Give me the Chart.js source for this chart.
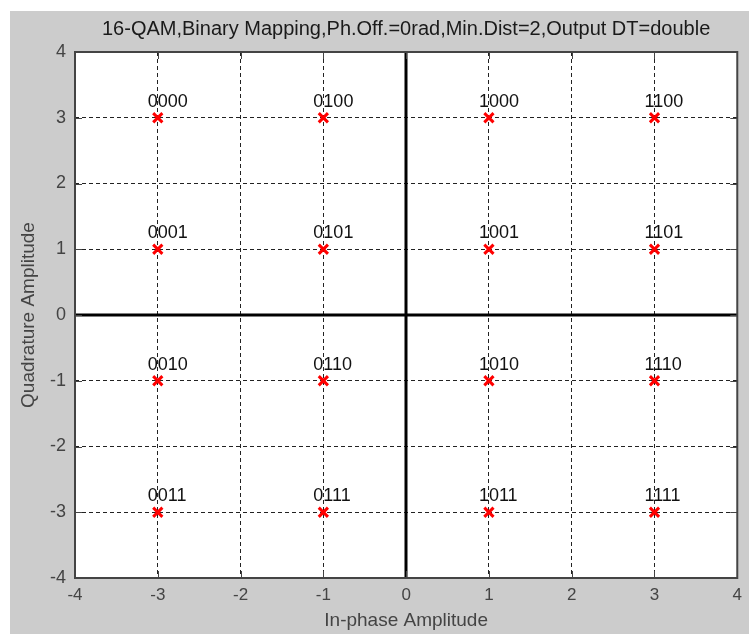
<!DOCTYPE html>
<html>
<head>
<meta charset="utf-8">
<title>16-QAM constellation</title>
<script src="https://cdn.jsdelivr.net/npm/chart.js@4/dist/chart.umd.min.js"></script>
<style>
  html, body { margin: 0; padding: 0; background: #fff; }
  #frame {
    position: absolute; left: 10px; top: 11px;
    width: 739px; height: 623px; background: #cccccc;
  }
  #frame canvas { display: block; }
</style>
</head>
<body>
<div id="frame"><canvas id="qam"></canvas></div>
<script>
// Constellation points (binary mapping, min. distance 2)
const inPhase    = [-3, -1, 1, 3, -3, -1, 1, 3, -3, -1, 1, 3, -3, -1, 1, 3];
const quadrature = [ 3,  3, 3, 3,  1,  1, 1, 1, -1, -1, -1, -1, -3, -3, -3, -3];
const symbolBits = ['0000', '0100', '1000', '1100',
                    '0001', '0101', '1001', '1101',
                    '0010', '0110', '1010', '1110',
                    '0011', '0111', '1011', '1111'];
const axisMin = -4;
const axisMax = 4;

const FONT = "'Liberation Sans', Arial, Helvetica, sans-serif";
const TICK_COLOR = '#444';

const points = inPhase.map((x, i) => ({x, y: quadrature[i]}));

// White axes background, box, inward tick marks, zero axes and bit labels.
const decorations = {
  id: 'decorations',
  beforeDraw(chart) {
    const {ctx, chartArea: a} = chart;
    ctx.save();
    ctx.fillStyle = '#fff';
    ctx.fillRect(a.left, a.top, a.right - a.left, a.bottom - a.top);
    ctx.restore();
  },
  beforeDatasetsDraw(chart) {
    const {ctx, chartArea: a, scales: {x, y}} = chart;
    ctx.save();
    // solid zero axes
    ctx.strokeStyle = '#000';
    ctx.lineWidth = 3;
    ctx.beginPath();
    const x0 = Math.round(x.getPixelForValue(0));
    const y0 = Math.round(y.getPixelForValue(0));
    ctx.moveTo(x0, a.top); ctx.lineTo(x0, a.bottom);
    ctx.moveTo(a.left, y0); ctx.lineTo(a.right, y0);
    ctx.stroke();
    // inward ticks on all four sides
    ctx.strokeStyle = TICK_COLOR;
    ctx.lineWidth = 1;
    ctx.beginPath();
    for (let v = axisMin; v <= axisMax; v++) {
      const px = Math.round(x.getPixelForValue(v)) + 0.5;
      const py = Math.round(y.getPixelForValue(v)) + 0.5;
      ctx.moveTo(px, a.bottom); ctx.lineTo(px, a.bottom - 7);
      ctx.moveTo(px, a.top); ctx.lineTo(px, a.top + 7);
      ctx.moveTo(a.left, py); ctx.lineTo(a.left + 7, py);
      ctx.moveTo(a.right, py); ctx.lineTo(a.right - 7, py);
    }
    ctx.stroke();
    // axes box
    ctx.strokeStyle = '#444';
    ctx.lineWidth = 2;
    ctx.strokeRect(a.left, a.top, a.right - a.left, a.bottom - a.top);
    ctx.restore();
  },
  afterDatasetsDraw(chart) {
    const {ctx, scales: {x, y}} = chart;
    ctx.save();
    ctx.font = '18px ' + FONT;
    ctx.fillStyle = '#111';
    ctx.textAlign = 'left';
    ctx.textBaseline = 'alphabetic';
    symbolBits.forEach((bits, i) => {
      const px = x.getPixelForValue(inPhase[i]);
      const py = y.getPixelForValue(quadrature[i]);
      ctx.fillText(bits, px - 10, py - 11);
    });
    ctx.restore();
  }
};

new Chart(document.getElementById('qam'), {
  type: 'scatter',
  data: {
    datasets: [{
      data: points,
      pointStyle: 'crossRot',
      radius: 6.5,
      borderWidth: 3,
      borderColor: '#ff0000',
      backgroundColor: '#ff0000',
    }]
  },
  options: {
    responsive: true,
    maintainAspectRatio: false,
    animation: false,
    events: [],
    layout: {padding: {left: 0, right: 8, top: 0, bottom: 0}},
    plugins: {
      legend: {display: false},
      tooltip: {enabled: false},
      title: {
        display: true,
        fullSize: false,
        text: '16-QAM,Binary Mapping,Ph.Off.=0rad,Min.Dist=2,Output DT=double',
        color: '#1a1a1a',
        font: {family: FONT, size: 20, weight: 'normal', lineHeight: 1},
        padding: {top: 8, bottom: 13},
      },
    },
    scales: {
      x: {
        type: 'linear',
        min: axisMin, max: axisMax,
        afterFit(s) { s.height = 56; },
        ticks: {stepSize: 1, color: TICK_COLOR, padding: 7,
                font: {family: FONT, size: 17}},
        grid: {color: '#222', lineWidth: 1, drawTicks: false},
        border: {display: false, dash: [4, 3]},
        title: {display: true, text: 'In-phase Amplitude', color: TICK_COLOR,
                font: {family: FONT, size: 19, lineHeight: 1},
                padding: {top: 0, bottom: 4}},
      },
      y: {
        type: 'linear',
        min: axisMin, max: axisMax,
        afterFit(s) { s.width = 65; },
        ticks: {stepSize: 1, color: TICK_COLOR, padding: 9,
                font: {family: FONT, size: 18}},
        grid: {color: '#222', lineWidth: 1, drawTicks: false},
        border: {display: false, dash: [4, 3]},
        title: {display: true, text: 'Quadrature Amplitude', color: TICK_COLOR,
                font: {family: FONT, size: 19, lineHeight: 1},
                padding: {top: 9, bottom: 0}},
      },
    },
  },
  plugins: [decorations],
});
</script>
</body>
</html>
